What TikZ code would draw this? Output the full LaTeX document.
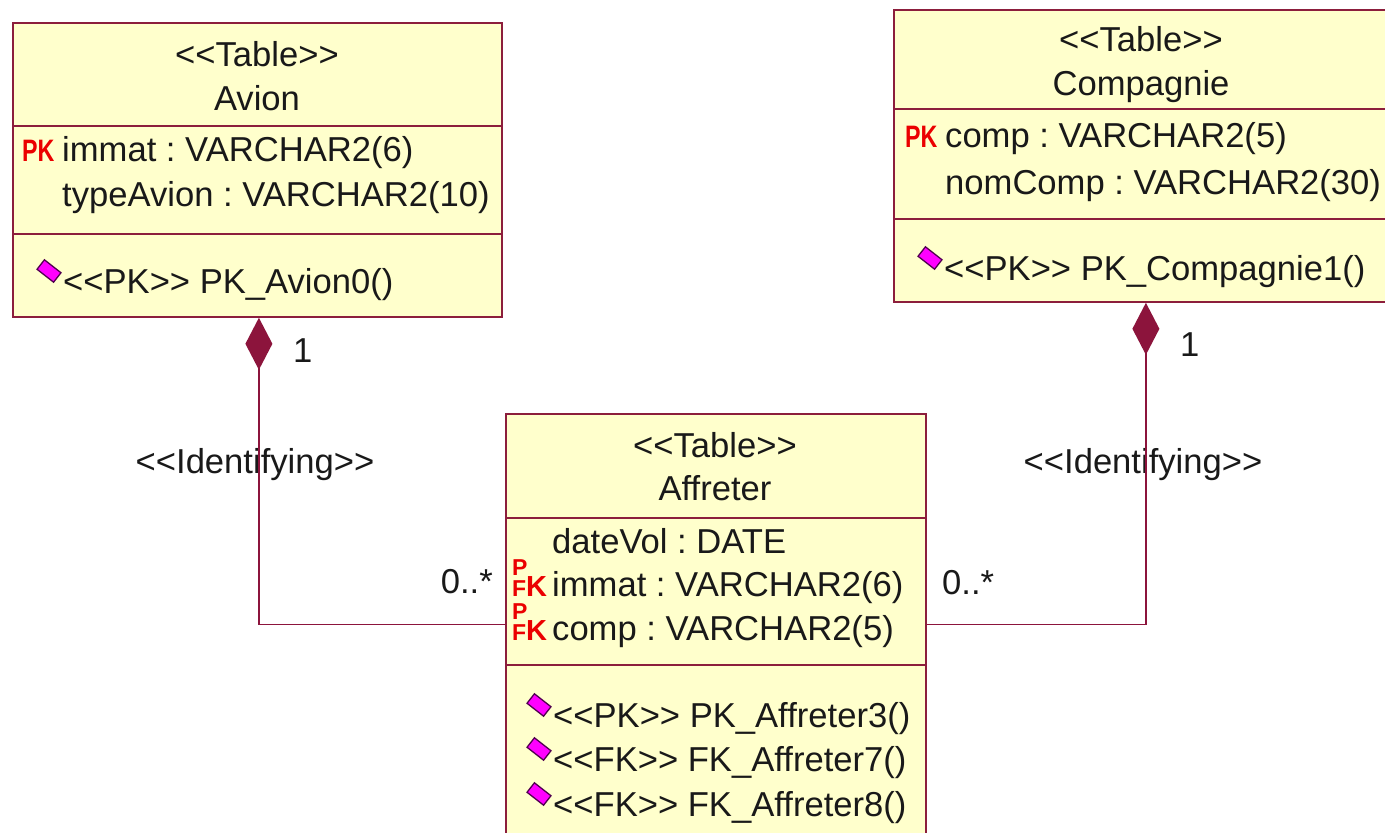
\documentclass[tikz,border=0pt]{standalone}
\usepackage{fontspec}
\setmainfont{Liberation Sans}
\usetikzlibrary{arrows.meta}

\definecolor{boxfill}{RGB}{255,255,204}
\definecolor{boxline}{RGB}{140,30,60}
\definecolor{linkred}{RGB}{140,20,60}
\definecolor{pkred}{RGB}{235,0,0}
\definecolor{opfill}{RGB}{255,0,255}
\definecolor{opline}{RGB}{80,0,80}

% stereotype brackets as plain angle signs (kerns keep them from merging)
\newcommand\stereo[1]{<\kern0pt<#1>\kern0pt>}
% key markers in front of the columns
\newcommand\pkmark{\textcolor{pkred}{\fontsize{31}{31}\selectfont\bfseries\scalebox{0.75}[1]{PK}}}
\newcommand\pfkmark{\textcolor{pkred}{\bfseries
  \fontsize{23}{17}\selectfont\begin{tabular}[b]{@{}l@{}}P\\F\end{tabular}%
  \hspace{-1.5pt}\fontsize{29}{29}\selectfont K}}

\tikzset{
  compart/.style={draw=boxline, fill=boxfill, line width=1.8pt, anchor=north west, inner sep=0pt},
  txt/.style={anchor=base west, inner sep=0pt, font=\fontsize{34.6}{40}\selectfont\frenchspacing, text=black!90},
  ctxt/.style={anchor=base, inner sep=0pt, font=\fontsize{34.6}{40}\selectfont\frenchspacing, text=black!90},
  rtxt/.style={anchor=base east, inner sep=0pt, font=\fontsize{34.6}{40}\selectfont\frenchspacing, text=black!90},
  keymark/.style={anchor=base west, inner sep=0pt},
  opicon/.style={draw=opline, fill=opfill, line width=1.3pt, minimum width=21pt, minimum height=12pt,
                 inner sep=0pt, rotate=-38},
  link/.style={draw=linkred, line width=1.8pt},
  comp/.style={{Diamond[length=52pt,width=27pt]}-}
}

\begin{document}
\begin{tikzpicture}[x=1pt,y=-1pt]
\useasboundingbox[fill=white] (0,0) rectangle (1385,833);

% ---------- Avion ----------
\node[compart, minimum width=489pt, minimum height=103pt] (avionhead) at (12,22) {};
\node[compart, minimum width=489pt, minimum height=108pt] (avionattr) at (12,125) {};
\node[compart, minimum width=489pt, minimum height=83pt]  (avionops)  at (12,233) {};
\node[ctxt] (avionst)   at (257,66)  {\stereo{Table}};
\node[ctxt] (avionname) at (257,110) {Avion};
\node[keymark] (avionpk) at (22,161) {\pkmark};
\node[txt] (avionimmat) at (62,161) {immat : VARCHAR2(6)};
\node[txt] (aviontype)  at (62,206) {typeAvion : VARCHAR2(10)};
\node[opicon] (avionopi) at (49,271) {};
\node[txt] (avionop) at (63,293) {\stereo{PK} PK\_Avion0()};

% ---------- Compagnie ----------
\node[compart, minimum width=497pt, minimum height=99pt]  (comphead) at (893,9) {};
\node[compart, minimum width=497pt, minimum height=110pt] (compattr) at (893,108) {};
\node[compart, minimum width=497pt, minimum height=83pt]  (compops)  at (893,218) {};
\node[ctxt] (compst)   at (1141,51) {\stereo{Table}};
\node[ctxt] (compname) at (1141,95) {Compagnie};
\node[keymark] (comppk) at (905,147) {\pkmark};
\node[txt] (compcomp) at (945,147) {comp : VARCHAR2(5)};
\node[txt] (compnom)  at (945,194) {nomComp : VARCHAR2(30)};
\node[opicon] (compopi) at (930,258) {};
\node[txt] (compop) at (944,280) {\stereo{PK} PK\_Compagnie1()};

% ---------- Affreter ----------
\node[compart, minimum width=420pt, minimum height=104pt] (affhead) at (505,413) {};
\node[compart, minimum width=420pt, minimum height=147pt] (affattr) at (505,517) {};
\node[compart, minimum width=420pt, minimum height=181pt] (affops)  at (505,664) {};
\node[ctxt] (affst)   at (715,457) {\stereo{Table}};
\node[ctxt] (affname) at (715,500) {Affreter};
\node[txt] (affdate)  at (552,553) {dateVol : DATE};
\node[keymark] (affpk1) at (512,596) {\pfkmark};
\node[txt] (affimmat) at (552,596) {immat : VARCHAR2(6)};
\node[keymark] (affpk2) at (512,640) {\pfkmark};
\node[txt] (affcomp)  at (552,640) {comp : VARCHAR2(5)};
\node[opicon] (affopi1) at (539,705) {};
\node[txt] (affop1) at (553,727) {\stereo{PK} PK\_Affreter3()};
\node[opicon] (affopi2) at (539,749) {};
\node[txt] (affop2) at (553,771) {\stereo{FK} FK\_Affreter7()};
\node[opicon] (affopi3) at (539,794) {};
\node[txt] (affop3) at (553,816) {\stereo{FK} FK\_Affreter8()};

% ---------- association labels ----------
\node[txt] (lmult1) at (293,362) {1};
\node[ctxt] (lstereo) at (255,473) {\stereo{Identifying}};
\node[rtxt] (lmultn) at (493,593) {0..*};
\node[txt] (rmult1) at (1180,356) {1};
\node[ctxt] (rstereo) at (1143,473) {\stereo{Identifying}};
\node[txt] (rmultn) at (942,594) {0..*};

% ---------- identifying compositions ----------
\draw[link, comp] ([xshift=1.5pt]avionops.south) |- ([yshift=-33pt]affattr.west);
\draw[link, comp] ([xshift=3.5pt]compops.south) |- ([yshift=-33pt]affattr.east);
\end{tikzpicture}
\end{document}
